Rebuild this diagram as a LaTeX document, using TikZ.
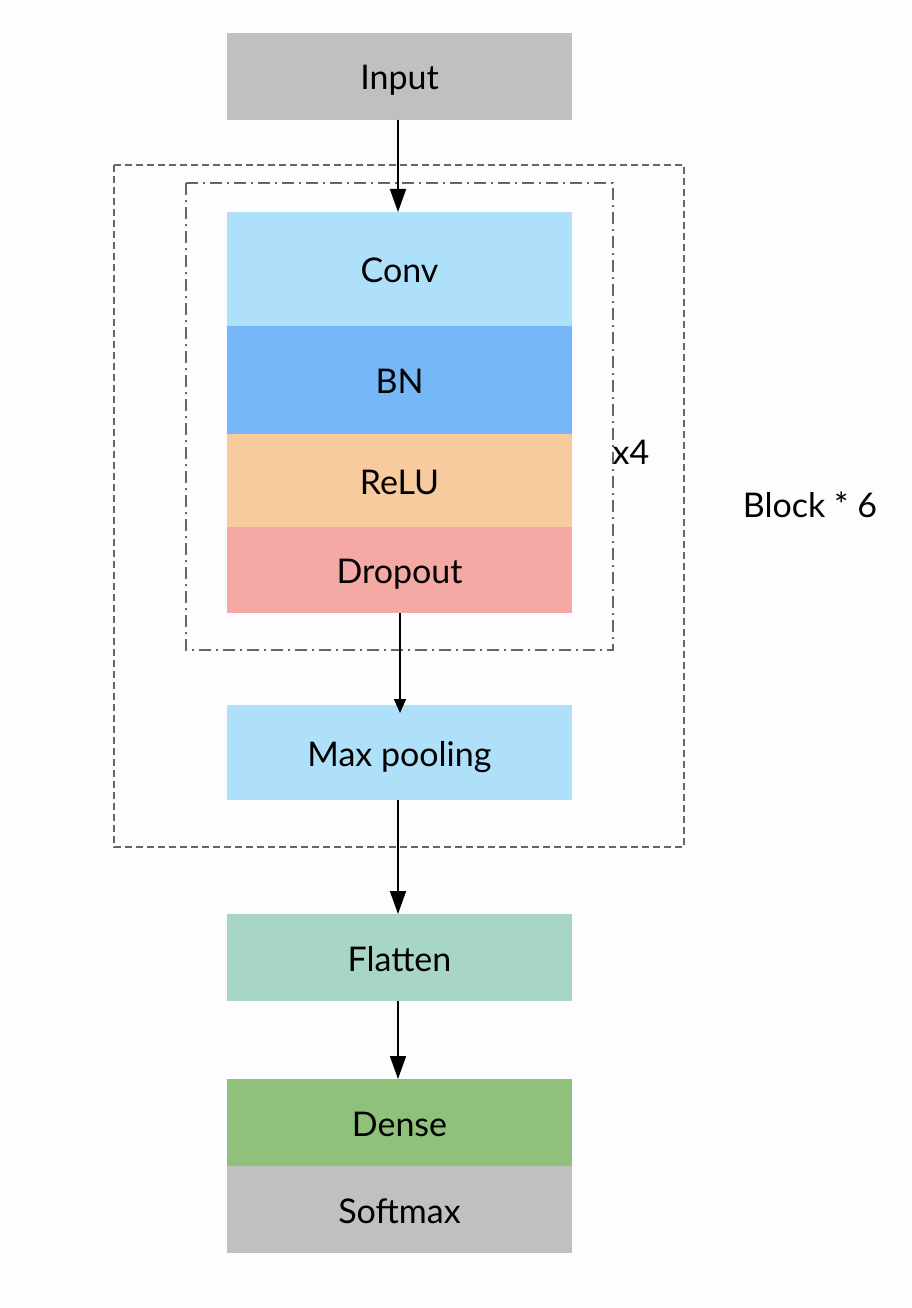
\documentclass[tikz,border=0pt]{standalone}
\usepackage{fontspec}
\setmainfont{Lato}
\usetikzlibrary{arrows.meta}
\definecolor{bg}{HTML}{FDFDFF}
\definecolor{grayc}{HTML}{C0C0C0}
\definecolor{lblue}{HTML}{AEE0FA}
\definecolor{mblue}{HTML}{75B7F7}
\definecolor{orangec}{HTML}{F8CB9E}
\definecolor{redc}{HTML}{F4A9A5}
\definecolor{tealc}{HTML}{A7D5C8}
\definecolor{greenc}{HTML}{8FC17A}
\definecolor{linec}{HTML}{666666}
\begin{document}
\begin{tikzpicture}[x=1pt,y=-1pt,
  layer/.style={minimum width=345pt,inner sep=0pt,outer sep=0pt,text height=35pt,text depth=8pt,font=\fontsize{34}{40}\selectfont,text=black},
  conn/.style={line width=1.6pt,-{Triangle[length=23pt,width=16pt]}},
  outerbox/.style={draw=linec,line width=2.8pt,dash pattern=on 7pt off 4pt},
  innerbox/.style={draw=linec,line width=2.8pt,dash pattern=on 12pt off 5pt on 2pt off 5pt},
  lbl/.style={font=\fontsize{34}{40}\selectfont,inner sep=0pt}]
\fill[bg] (0,0) rectangle (912,1308);
\useasboundingbox (0,0) rectangle (912,1308);
\draw[outerbox] (114,165) rectangle (684,847);
\draw[innerbox] (186,183) rectangle (613,650);
\node[layer,fill=grayc,minimum height=87pt] (input) at (399.5,76.5) {Input};
\node[layer,fill=lblue,minimum height=114pt] (conv) at (399.5,269) {Conv};
\node[layer,fill=mblue,minimum height=108pt] (bn) at (399.5,380) {BN};
\node[layer,fill=orangec,minimum height=93pt] (relu) at (399.5,480.5) {ReLU};
\node[layer,fill=redc,minimum height=86pt] (drop) at (399.5,570) {Dropout};
\node[layer,fill=lblue,minimum height=95pt] (pool) at (399.5,752.5) {Max pooling};
\node[layer,fill=tealc,minimum height=87pt] (flat) at (399.5,957.5) {Flatten};
\node[layer,fill=greenc,minimum height=87pt] (dense) at (399.5,1122.5) {Dense};
\node[layer,fill=grayc,minimum height=87pt] (soft) at (399.5,1209.5) {Softmax};
\node[lbl] (x4) at (631,452) {x4};
\node[lbl] (blk) at (810,505) {Block * 6};
\draw[conn] (input.south -| 398,0) -- (conv.north -| 398,0);
\draw[conn,-{Triangle[length=14pt,width=12pt]}] (drop.south -| 400,0) -- ([yshift=-8pt]pool.north -| 400,0);
\draw[conn] (pool.south -| 398,0) -- (flat.north -| 398,0);
\draw[conn] (flat.south -| 398,0) -- (dense.north -| 398,0);
\end{tikzpicture}
\end{document}
